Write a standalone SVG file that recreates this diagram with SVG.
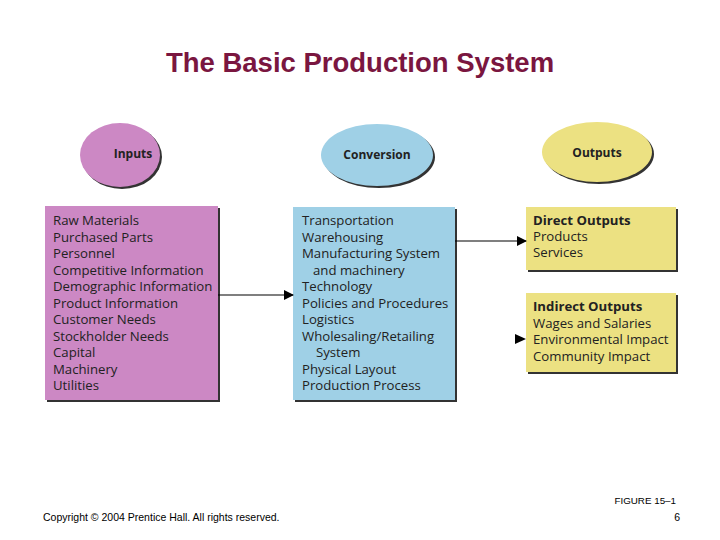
<svg xmlns="http://www.w3.org/2000/svg" width="720" height="540" viewBox="0 0 720 540">
<defs>
<style>
.t{font-family:"Open Sans","Liberation Sans",sans-serif;font-size:13.2px;fill:#222}
.b{font-weight:bold}
.sh{fill:#333}
.f{font-family:"Liberation Sans",Arial,sans-serif;font-size:10.5px;fill:#000}
</style>
<marker id="ah" markerWidth="10" markerHeight="10" refX="9" refY="5" orient="auto" markerUnits="userSpaceOnUse"><path d="M0,0 L10,5 L0,10 Z" fill="#000"/></marker>
</defs>
<rect width="720" height="540" fill="#fff"/>
<text x="360" y="72" text-anchor="middle" font-family="Liberation Sans,Arial,sans-serif" font-size="27.5" font-weight="bold" fill="#7a1640">The Basic Production System</text>

<g id="inputs-ellipse">
<ellipse cx="122" cy="157" rx="40" ry="32" class="sh"/>
<ellipse cx="120" cy="155" rx="40" ry="32" fill="#cc88c4"/>
<text x="133" y="158" text-anchor="middle" class="t b" style="font-size:12px">Inputs</text>
</g>
<g id="conversion-ellipse">
<ellipse cx="379" cy="157" rx="56" ry="31" class="sh"/>
<ellipse cx="377" cy="155" rx="56" ry="31" fill="#9fd0e6"/>
<text x="377" y="159" text-anchor="middle" class="t b" style="font-size:12px">Conversion</text>
</g>
<g id="outputs-ellipse">
<ellipse cx="599" cy="154" rx="55" ry="30" class="sh"/>
<ellipse cx="597" cy="152" rx="55" ry="30" fill="#ece182"/>
<text x="597" y="157" text-anchor="middle" class="t b" style="font-size:12px">Outputs</text>
</g>

<g id="inputs-box">
<rect x="47" y="208" width="173" height="194" class="sh"/>
<rect x="45" y="206" width="173" height="194" fill="#cc88c4"/>
<text class="t" x="53" y="225">Raw Materials
<tspan x="53" dy="16.5">Purchased Parts</tspan>
<tspan x="53" dy="16.5">Personnel</tspan>
<tspan x="53" dy="16.5">Competitive Information</tspan>
<tspan x="53" dy="16.5">Demographic Information</tspan>
<tspan x="53" dy="16.5">Product Information</tspan>
<tspan x="53" dy="16.5">Customer Needs</tspan>
<tspan x="53" dy="16.5">Stockholder Needs</tspan>
<tspan x="53" dy="16.5">Capital</tspan>
<tspan x="53" dy="16.5">Machinery</tspan>
<tspan x="53" dy="16.5">Utilities</tspan></text>
</g>
<g id="conversion-box">
<rect x="295" y="209" width="162" height="193" class="sh"/>
<rect x="293" y="207" width="162" height="193" fill="#9fd0e6"/>
<text class="t" x="302" y="225">Transportation
<tspan x="302" dy="16.5">Warehousing</tspan>
<tspan x="302" dy="16.5">Manufacturing System</tspan>
<tspan x="313" dy="16.5">and machinery</tspan>
<tspan x="302" dy="16.5">Technology</tspan>
<tspan x="302" dy="16.5">Policies and Procedures</tspan>
<tspan x="302" dy="16.5">Logistics</tspan>
<tspan x="302" dy="16.5">Wholesaling/Retailing</tspan>
<tspan x="316" dy="16.5">System</tspan>
<tspan x="302" dy="16.5">Physical Layout</tspan>
<tspan x="302" dy="16.5">Production Process</tspan></text>
</g>
<g id="direct-outputs">
<rect x="528" y="209" width="150" height="63" class="sh"/>
<rect x="526" y="207" width="150" height="63" fill="#ece182"/>
<text class="t" x="533" y="225"><tspan class="b">Direct Outputs</tspan>
<tspan x="533" dy="16">Products</tspan>
<tspan x="533" dy="16">Services</tspan></text>
</g>
<g id="indirect-outputs">
<rect x="528" y="295" width="150" height="79" class="sh"/>
<rect x="526" y="293" width="150" height="79" fill="#ece182"/>
<text class="t" x="533" y="311"><tspan class="b">Indirect Outputs</tspan>
<tspan x="533" dy="16.5">Wages and Salaries</tspan>
<tspan x="533" dy="16.5">Environmental Impact</tspan>
<tspan x="533" dy="16.5">Community Impact</tspan></text>
</g>

<g id="connectors" stroke="#000" stroke-width="1.2" fill="none">
<line x1="218" y1="295" x2="293" y2="295" marker-end="url(#ah)"/>
<line x1="455" y1="241" x2="526" y2="241" marker-end="url(#ah)"/>
<path d="M515,334 L526,339 L515,344 Z" fill="#000" stroke="none"/>
</g>

<text x="676" y="504" text-anchor="end" class="f" style="font-size:9.8px">FIGURE 15–1</text>
<text x="43" y="521" class="f">Copyright © 2004 Prentice Hall. All rights reserved.</text>
<text x="680" y="521" text-anchor="end" class="f">6</text>
</svg>
